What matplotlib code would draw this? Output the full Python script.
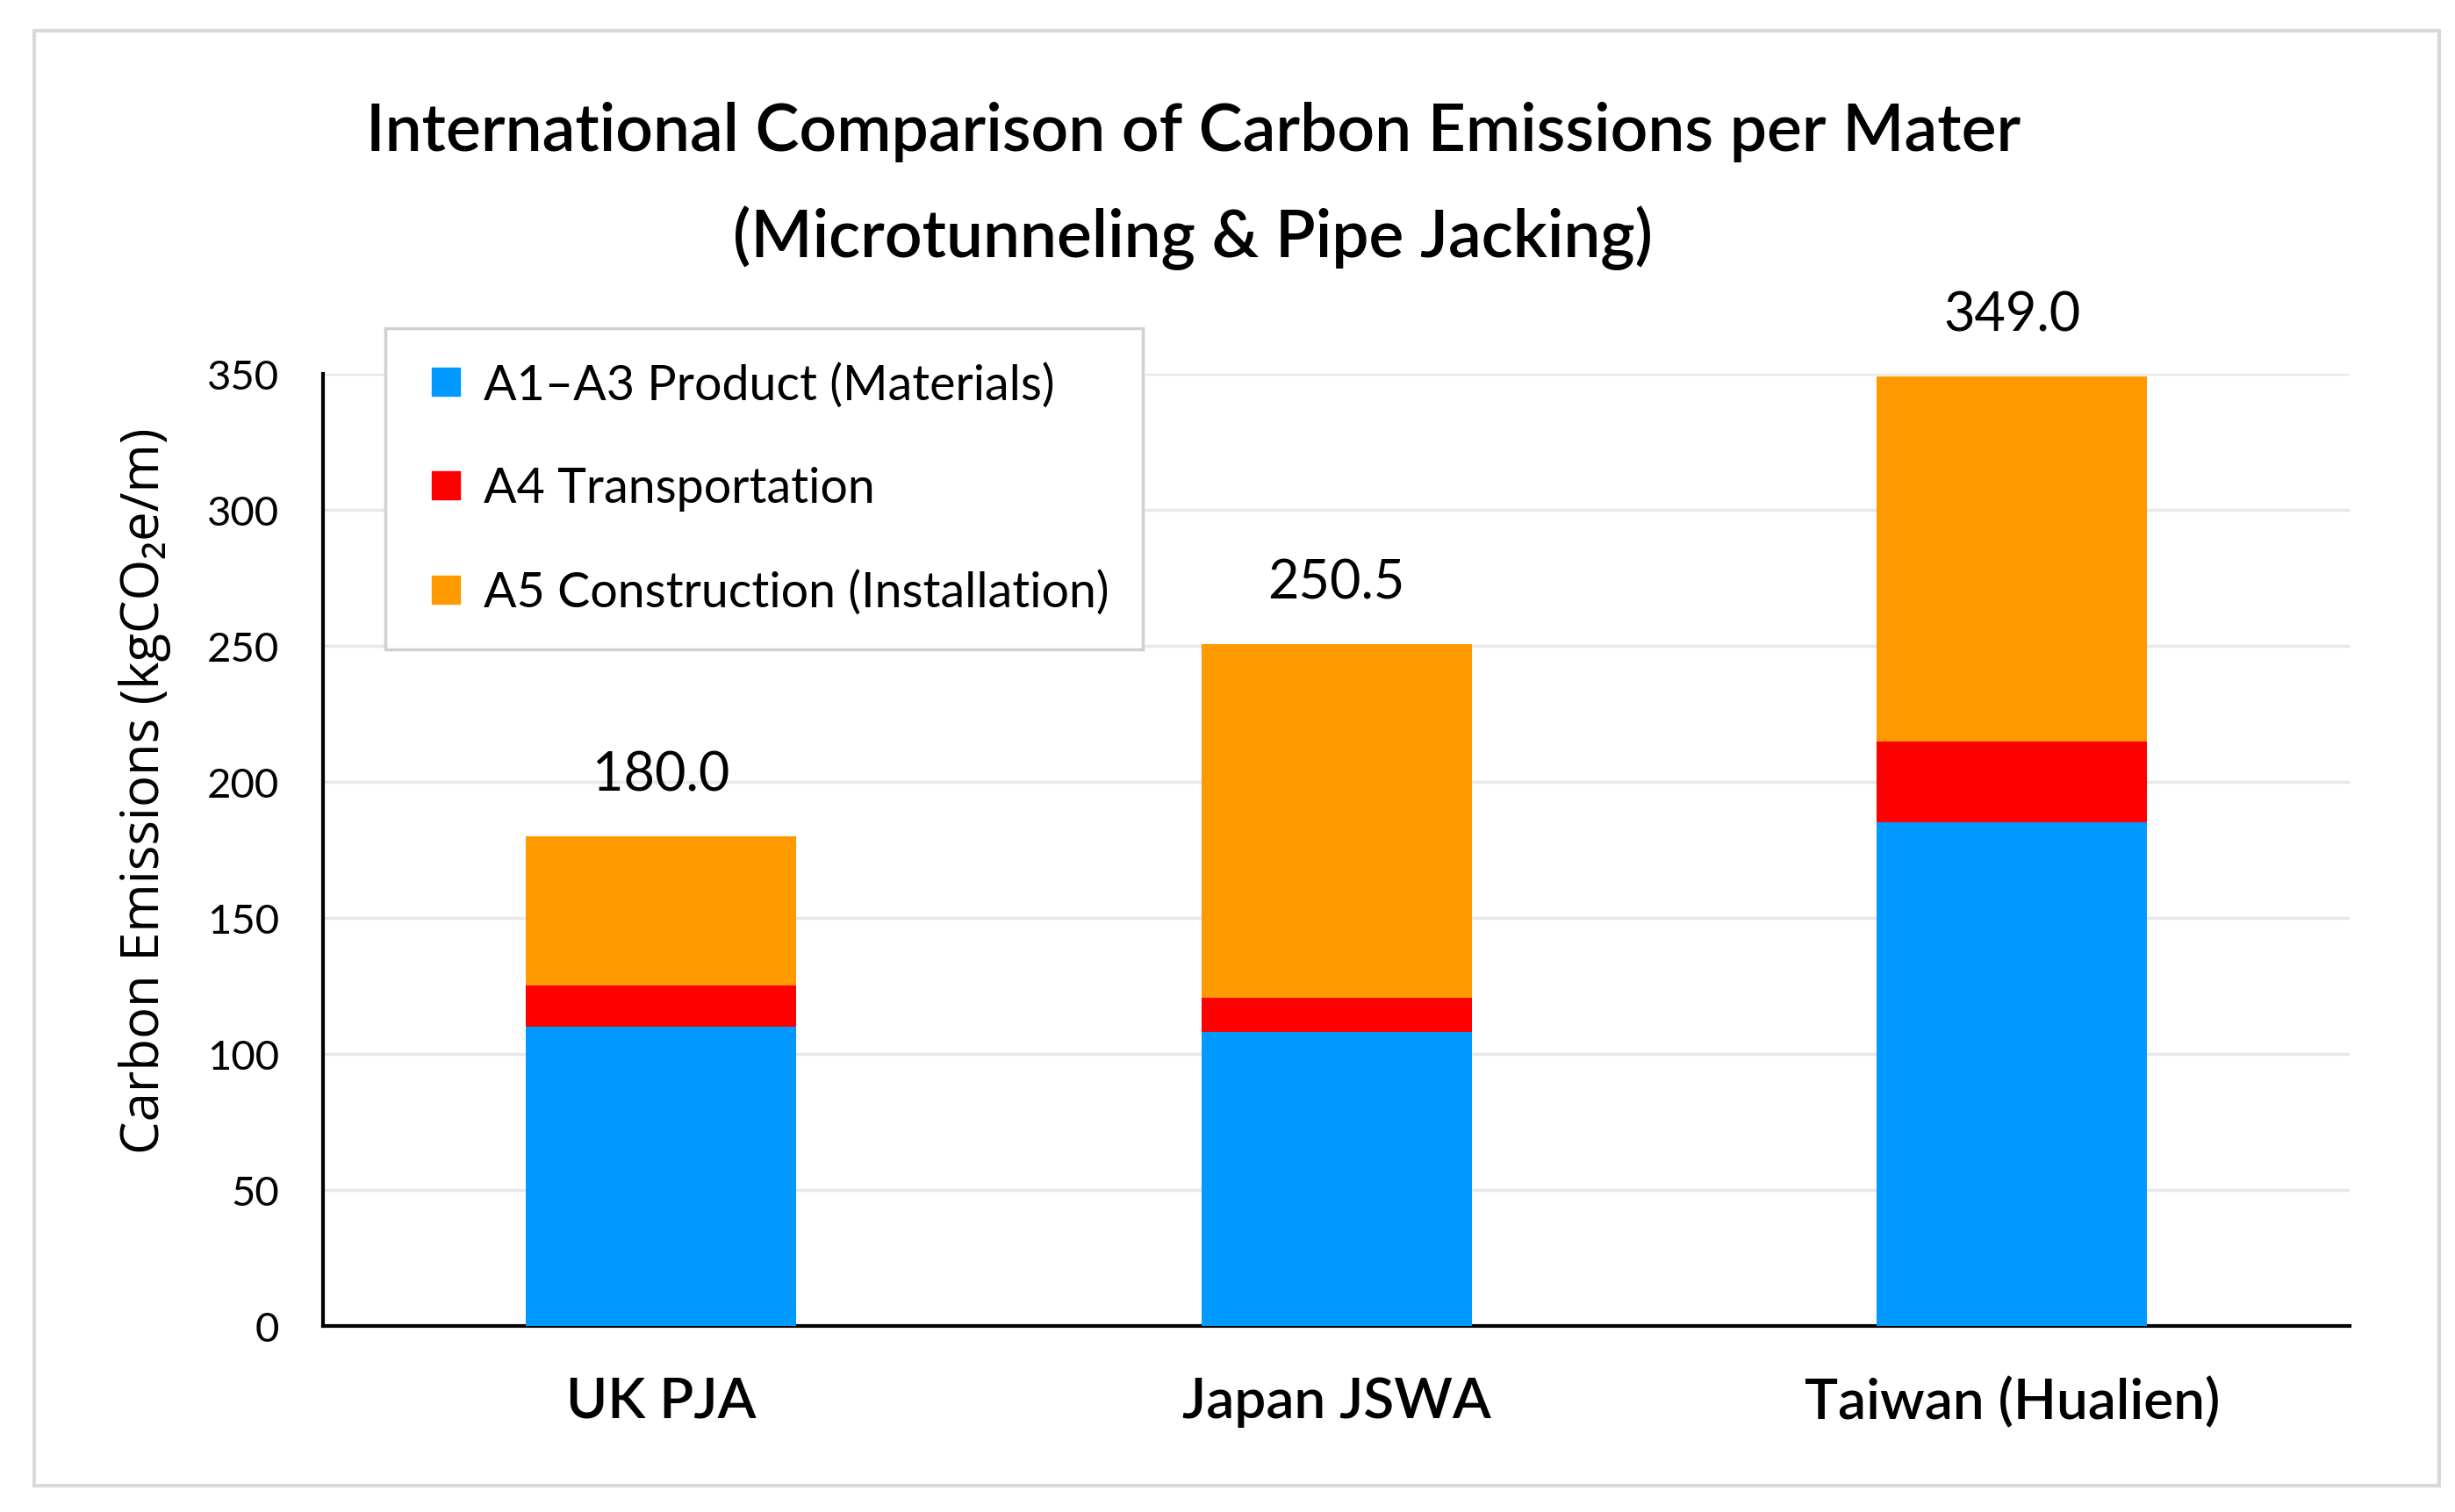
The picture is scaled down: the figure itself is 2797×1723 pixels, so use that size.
import numpy as np
import matplotlib.pyplot as plt
from matplotlib.lines import Line2D
from matplotlib.patches import Rectangle

categories = ["UK PJA", "Japan JSWA", "Taiwan (Hualien)"]
a1_a3 = [110, 108, 185]
a4 = [15, 12.5, 30]
a5 = [55, 130, 134]
totals = [180.0, 250.5, 349.0]
series_names = ["A1\u2013A3 Product (Materials)", "A4 Transportation", "A5 Construction (Installation)"]
colors = ["#0099FF", "#FF0000", "#FF9900"]

plt.rcParams['font.family'] = ['Lato', 'DejaVu Sans']

fig = plt.figure(figsize=(27.97, 17.24), dpi=100)
ax = fig.add_axes([0.1316, 0.1230, 0.8256, 0.6293])

x = np.arange(len(categories))
w = 0.4
bottom = np.zeros(len(categories))
for vals, name, c in zip([a1_a3, a4, a5], series_names, colors):
    ax.bar(x, vals, w, bottom=bottom, color=c, label=name, zorder=3)
    bottom = bottom + np.array(vals)

for xi, t in zip(x, totals):
    ax.annotate(f"{t:.1f}", (xi, t), xytext=(0, 30), textcoords="offset points",
                ha="center", va="bottom", fontsize=44)

ax.set_xlim(-0.5, 2.5)
ax.set_ylim(0, 350)
ax.set_yticks(np.arange(0, 351, 50))
ax.grid(axis="y", color="#e8e8e8", linewidth=2.5, zorder=0)
ax.set_axisbelow(True)
for s in ["top", "right"]:
    ax.spines[s].set_visible(False)
ax.spines["left"].set_linewidth(3)
ax.spines["bottom"].set_linewidth(3)
ax.tick_params(axis="y", length=0, pad=36, labelsize=34)
ax.tick_params(axis="x", length=0, pad=41, labelsize=46)
ax.set_xticks(x)
ax.set_xticklabels(categories, fontweight="semibold")

fig.text(0.059, 0.4774, "Carbon Emissions (kgCO\u2082e/m)", rotation=90,
         ha="center", va="center", fontsize=43, family=["Open Sans", "DejaVu Sans"])

fig.text(0.486, 0.877, "International Comparison of Carbon Emissions per Mater\n(Microtunneling & Pipe Jacking)",
         ha="center", va="center", fontsize=54, fontweight="semibold", linespacing=1.85)

# square markers for the legend keys
handles = [Line2D([], [], linestyle="none", marker="s", markersize=23,
                  markerfacecolor=c, markeredgecolor=c) for c in colors]
leg = ax.legend(handles, series_names, loc="upper left", bbox_to_anchor=(0.0306, 1.048),
                borderaxespad=0, fontsize=40, handlelength=1.1, handletextpad=0.22,
                labelspacing=1.2, fancybox=False, borderpad=0.7, framealpha=1)
leg.get_frame().set_edgecolor("#d0d0d0")
leg.get_frame().set_linewidth(2.5)

fig.patches.append(Rectangle((39 / 2797, 1 - 1694 / 1724), (2779 - 39) / 2797, (1694 - 36) / 1724,
                             transform=fig.transFigure, fill=False, edgecolor="#d9d9d9", linewidth=3))

fig.savefig("out.png", dpi=100)
